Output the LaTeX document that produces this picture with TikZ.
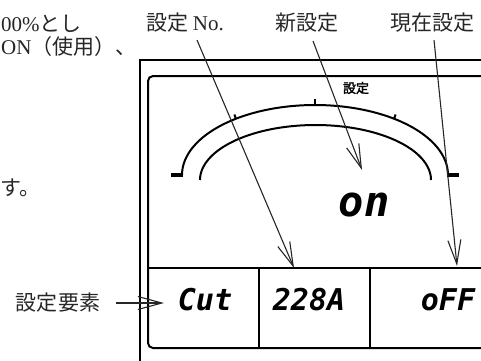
\documentclass[tikz,border=0pt]{standalone}
\usepackage{fontspec}
\usetikzlibrary{arrows.meta}
\setmainfont{Noto Sans CJK JP}
\newfontfamily\latinserif{Liberation Serif}
\newfontfamily\segfont{DejaVu Sans Mono}
\newfontfamily\cjkbold[FakeBold=2]{Noto Sans CJK JP}
\begin{document}
\begin{tikzpicture}[x=1pt,y=-1pt,
  lbl/.style={font=\fontsize{21}{21}\selectfont, text=black!85, inner sep=0pt},
  boxline/.style={line width=2pt, black},
  arr/.style={line width=1.1pt, black!85, -{Straight Barb[length=24pt,width=13pt]}},
  segtxt/.style={font=\segfont\bfseries\itshape\fontsize{30}{30}\selectfont, inner sep=0pt},
  segbig/.style={font=\segfont\bfseries\itshape\fontsize{42}{42}\selectfont, inner sep=0pt}]
\clip (0,0) rectangle (481,360);
\useasboundingbox (0,0) rectangle (481,360);
% device frame
\draw[boxline] (139.5,380) -- (139.5,60) -- (500,60);
\draw[boxline, rounded corners=5pt] (500,76) -- (148,76) -- (148,348) -- (500,348);
\draw[boxline] (148,268) -- (500,268);
\draw[boxline] (259,268) -- (259,348);
\draw[boxline] (370,268) -- (370,348);
% gauge arcs
\draw[boxline] plot[domain=180:360,samples=90] ({315+133*cos(\x)},{175+70*sin(\x)});
\draw[boxline] plot[domain=180:360,samples=90] ({315.5+115.5*cos(\x)},{180+55*sin(\x)});
% ticks
\draw[line width=4pt] (171,175) -- (183,175);
\draw[line width=4pt] (447,175) -- (459,175);
\draw[line width=2.5pt] (315,106) -- (315,99);
\draw[line width=2pt] (236,119) -- (234.4,114.5);
\draw[line width=2pt] (394,119) -- (395.6,114.5);
% display texts
\node[font=\cjkbold\fontsize{13}{13}\selectfont, inner sep=0pt] (setl) at (356,88) {設定};
\node[segbig] (on) at (364,205) {on};
\node[segtxt] (cut) at (205,300) {Cut};
\node[segtxt] (num) at (309,300) {228A};
\node[segtxt] (off) at (448,300) {oFF};
% labels
\node[lbl, anchor=east] (no) at (224,23) {設定 {\latinserif No.}};
\node[lbl] (new) at (307,23) {新設定};
\node[lbl] (cur) at (432,23) {現在設定};
\node[lbl] (elem) at (58,303) {設定要素};
% text fragments on the left
\node[lbl, anchor=west] (t1) at (1,24) {{\latinserif 00\%}とし};
\node[lbl, anchor=west] (t2) at (1,47) {{\latinserif ON}（使用）、};
\node[lbl, anchor=west] (t3) at (0,188) {す。};
% arrows
\coordinate (noS) at (197,40);
\coordinate (noT) at (294,268);
\coordinate (newS) at (313,41);
\coordinate (newT) at (362,170);
\coordinate (curS) at (434,40);
\coordinate (curT) at (457,266);
\coordinate (elS) at (116,303);
\coordinate (elT) at (164,303);
\draw[arr] (noS) -- (noT);
\draw[arr] (newS) -- (newT);
\draw[arr] (curS) -- (curT);
\draw[arr] (elS) -- (elT);
\end{tikzpicture}
\end{document}
